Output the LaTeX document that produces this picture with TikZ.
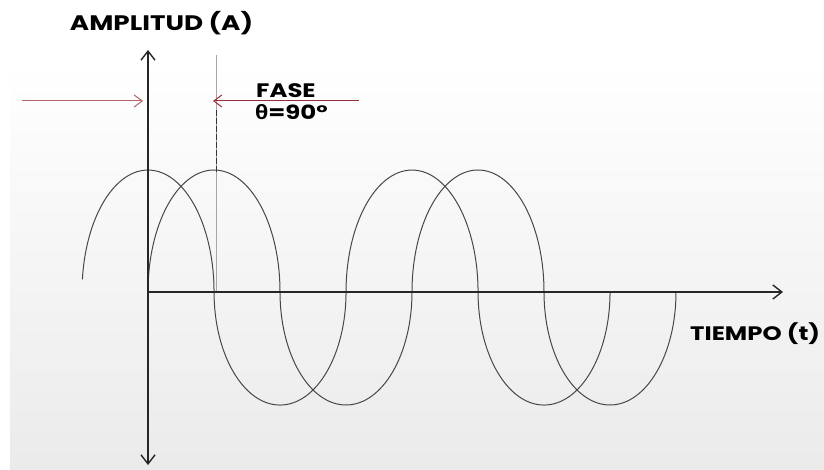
\documentclass[tikz,border=0pt]{standalone}
\usepackage{fontspec}
\newfontfamily\lblfont[FakeStretch=1.25]{Poppins}
\newfontfamily\grkfont[FakeStretch=1.1]{Open Sans}
\definecolor{fasered}{RGB}{150,45,55}
\usetikzlibrary{arrows.meta}

\begin{document}
\begin{tikzpicture}[x=1pt,y=-1pt,
    >={Straight Barb[length=9pt,width=14pt,line width=1.4pt]},
    lbl/.style={font=\lblfont\bfseries\fontsize{19.5}{23}\selectfont,inner sep=0pt},
    axis/.style={line width=1.4pt,black!85},
    wave/.style={line width=1pt,black!72},
    fase/.style={-{Straight Barb[length=8pt,width=12pt,line width=1pt]},line width=1pt,fasered}]
  \useasboundingbox (0,0) rectangle (824,470);
  \shade[top color=white,middle color=black!4,bottom color=black!8] (10,62) rectangle (824,470);
  % axes
  \coordinate (O) at (148,292);
  \coordinate (ytop) at (148,50);
  \coordinate (ybot) at (148,465);
  \coordinate (xend) at (783,292);
  % phase marker
  \coordinate (ptop) at (216,55);
  \coordinate (pdash) at (216,110);
  \coordinate (ppeak) at (216,172);
  \coordinate (pfoot) at (216,292);
  \coordinate (lstart) at (22,101);
  \coordinate (lend) at (143,101);
  \coordinate (rstart) at (359,101);
  \coordinate (rend) at (213,101);
  \draw[line width=0.5pt,black!35] (ptop) -- (pfoot);
  \draw[line width=0.8pt,black!80,dash pattern=on 6pt off 2pt] (pdash) -- (ppeak);
  % waves
  \draw[wave] (82.4,279.3) arc[start angle=186,end angle=360,x radius=66,y radius=122]
    arc[start angle=180,end angle=0,x radius=66,y radius=113]
    arc[start angle=180,end angle=360,x radius=66,y radius=122]
    arc[start angle=180,end angle=0,x radius=66,y radius=113];
  \draw[wave] (O) arc[start angle=180,end angle=360,x radius=66,y radius=122]
    arc[start angle=180,end angle=0,x radius=66,y radius=113]
    arc[start angle=180,end angle=360,x radius=66,y radius=122]
    arc[start angle=180,end angle=0,x radius=66,y radius=113];
  \draw[axis,<->] (ybot) -- (ytop);
  \draw[axis,line width=2pt,->] (O) -- (xend);
  \draw[fase,fasered!75] (lstart) -- (lend);
  \draw[fase] (rstart) -- (rend);
  % labels
  \node[lbl,font=\lblfont\bfseries\fontsize{21}{25}\selectfont,anchor=base] (amp) at (161.5,31) {AMPLITUD (A)};
  \node[lbl,anchor=base west] (fase) at (256,98) {FASE};
  \node[lbl,anchor=base west] (theta) at (255,120) {{\grkfont θ}=90°};
  \node[lbl,anchor=base west] (tiempo) at (690,340) {TIEMPO (t)};
\end{tikzpicture}
\end{document}
